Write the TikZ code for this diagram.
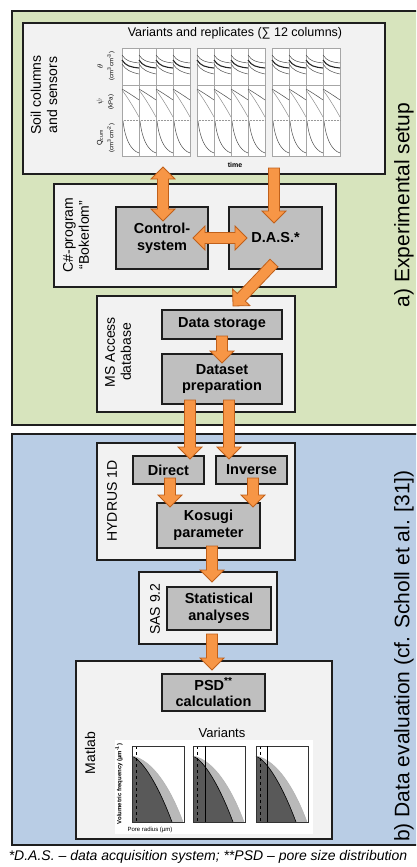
\documentclass[tikz,border=0pt]{standalone}
\usepackage{fontspec}
\setmainfont{Liberation Sans}
\usetikzlibrary{calc}
\definecolor{gfill}{HTML}{D7E4BD}
\definecolor{bfill}{HTML}{B9CDE5}
\definecolor{pfill}{HTML}{F2F2F2}
\definecolor{grbox}{HTML}{BFBFBF}
\definecolor{orfill}{HTML}{F79646}
\definecolor{ordraw}{HTML}{C0601A}
\definecolor{edge}{HTML}{1E1E1E}
\newcommand{\fs}[1]{\fontsize{#1}{#1}\selectfont\baselineskip=1.15\baselineskip}
\newcommand{\sarrow}[2]{%
  \coordinate (bpA) at ($(#2)!12pt!(#1)$);
  \filldraw[arrowstyle] ($(#1)!5.5pt!90:(#2)$) -- ($(bpA)!5.5pt!90:(#2)$) -- ($(bpA)!12pt!90:(#2)$) -- (#2)
    -- ($(bpA)!12pt!-90:(#2)$) -- ($(bpA)!5.5pt!-90:(#2)$) -- ($(#1)!5.5pt!-90:(#2)$) -- cycle;}
\newcommand{\darrow}[2]{%
  \coordinate (bpA) at ($(#2)!12pt!(#1)$);
  \coordinate (bpB) at ($(#1)!12pt!(#2)$);
  \filldraw[arrowstyle] ($(bpB)!5.5pt!90:(#2)$) -- ($(bpA)!5.5pt!90:(#2)$) -- ($(bpA)!12pt!90:(#2)$) -- (#2)
    -- ($(bpA)!12pt!-90:(#2)$) -- ($(bpA)!5.5pt!-90:(#2)$) -- ($(bpB)!5.5pt!-90:(#2)$)
    -- ($(bpB)!12pt!-90:(#2)$) -- (#1) -- ($(bpB)!12pt!90:(#2)$) -- cycle;}
\tikzset{
  arrowstyle/.style={fill=orfill, draw=ordraw, line width=0.8pt, line join=miter},
  panel/.style={draw=edge, fill=pfill, line width=1.6pt},
  procbox/.style={draw=edge, fill=grbox, line width=1.6pt, font=\fs{14.5}\bfseries, align=center, inner sep=0pt},
  sidelabel/.style={rotate=90, font=\fs{14}, align=center},
  biglabel/.style={rotate=90, font=\fs{21}},
  chartframe/.style={draw=gray!70, line width=0.5pt, fill=white},
  ccurve/.style={draw=black!70, line width=0.5pt},
  tiny/.style={font=\fs{6}, inner sep=0pt}
}
\begin{document}
\begin{tikzpicture}[x=1pt,y=-1pt]
\useasboundingbox (0,0) rectangle (416,867);
\clip (0,0) rectangle (416,867);
\fill[white] (0,0) rectangle (416,867);
% outer regions
\draw[fill=gfill, draw=edge, line width=2pt] (12,11) rectangle (440,425);
\draw[fill=bfill, draw=edge, line width=2pt] (12,434) rectangle (440,845);
\node[biglabel] (lblA) at (404,205) {a) Experimental setup};
\node[biglabel] (lblB) at (404,656) {b) Data evaluation (cf. Scholl et al. [31])};

% soil columns panel
\node[panel, minimum width=362pt, minimum height=151pt] (soil) at (204,98.5) {};
\node[sidelabel] (soillbl) at (44,95) {Soil columns\\and sensors};
\node[font=\fs{12.5}] (vartitle) at (235,33) {Variants and replicates (∑ 12 columns)};
\foreach \x in {122,139,156,173,197,214,231,248,272,289,306,323} {
  \draw[chartframe] (\x,48) rectangle ++(17,108);
  \draw[gray!70, line width=0.4pt] (\x,85) -- ++(17,0);
  \draw[gray!80, line width=0.5pt, densely dotted] (\x,120) -- ++(17,0);
  \draw[ccurve] (\x,55) .. controls (\x+4,61) and (\x+8,62) .. (\x+17,63);
  \draw[ccurve, line width=1.1pt, black!85] (\x,60) .. controls (\x+4,66) and (\x+8,67) .. (\x+17,68);
  \draw[ccurve] (\x,64) .. controls (\x+4,70) and (\x+8,72) .. (\x+17,74);
  \draw[ccurve] (\x,89) .. controls (\x+5,92) and (\x+10,95) .. (\x+17,100);
  \draw[ccurve, black!45] (\x,90) .. controls (\x+6,98) and (\x+12,108) .. (\x+17,117);
  \draw[ccurve] (\x+1,121) .. controls (\x+3,138) and (\x+8,150) .. (\x+17,153);
}
\node[rotate=90, font=\fs{8}] (thl) at (100,66) {$\theta$};
\node[rotate=90, tiny] (thu) at (111,66) {(cm\textsuperscript{3}cm\textsuperscript{-3})};
\node[rotate=90, font=\fs{8}] (psl) at (100,102) {$\psi$};
\node[rotate=90, tiny] (psu) at (111,102) {(kPa)};
\node[rotate=90, font=\fs{7}] (ql) at (100,138) {Q\textsubscript{cum}};
\node[rotate=90, tiny] (qu) at (111,138) {(cm\textsuperscript{3}cm\textsuperscript{-2})};
\node[font=\fs{7}\bfseries] (time) at (235,165) {time};

% C# program
\node[panel, minimum width=282pt, minimum height=103pt] (csharp) at (195,235.5) {};
\node[sidelabel] (cslbl) at (76,235) {C\#-program\\``Bokerlom''};
\node[procbox, minimum width=92pt, minimum height=62pt] (ctrl) at (162,238) {Control-\\system};
\node[procbox, minimum width=93pt, minimum height=62pt] (das) at (275.5,238) {D.A.S.*};

% MS Access
\node[panel, minimum width=198pt, minimum height=116pt] (msacc) at (196,354) {};
\node[sidelabel] (mslbl) at (118,352) {MS Access\\database};
\node[procbox, minimum width=120pt, minimum height=29pt] (storage) at (222,324.5) {Data storage};
\node[procbox, minimum width=120pt, minimum height=50pt] (prep) at (222,379) {Dataset\\preparation};

% HYDRUS
\node[panel, minimum width=198pt, minimum height=117pt] (hydrus) at (196,501.5) {};
\node[sidelabel] (hylbl) at (112,501) {HYDRUS 1D};
\node[procbox, minimum width=71pt, minimum height=28pt] (direct) at (168.5,470) {Direct};
\node[procbox, minimum width=71pt, minimum height=28pt] (inverse) at (251.5,470) {Inverse};
\node[procbox, minimum width=103pt, minimum height=45pt] (kosugi) at (208.5,525.5) {Kosugi\\parameter};

% SAS
\node[panel, minimum width=138pt, minimum height=72pt] (sas) at (208,608) {};
\node[sidelabel] (saslbl) at (155,609) {SAS 9.2};
\node[procbox, minimum width=104pt, minimum height=43pt] (stat) at (219,608.5) {Statistical\\analyses};

% Matlab
\node[panel, minimum width=256pt, minimum height=178pt] (matlab) at (204,750) {};
\node[sidelabel] (mllbl) at (90,753) {Matlab};
\node[procbox, minimum width=103pt, minimum height=37pt] (psd) at (213.5,692.5) {PSD\textsuperscript{**}\\calculation};
\node[font=\fs{13}] (varlbl) at (222,733) {Variants};
\fill[white] (115,740) rectangle (313,834);
\foreach \x in {132,193,256} {
  \fill[gray!55] (\x,756) .. controls (\x+22,760) and (\x+40,792) .. (\x+51,822) -- (\x,822) -- cycle;
  \fill[black!65] (\x,756) .. controls (\x+14,762) and (\x+30,795) .. (\x+40,822) -- (\x,822) -- cycle;
  \draw[black, line width=0.6pt] (\x,756) .. controls (\x+14,762) and (\x+30,795) .. (\x+40,822);
  \draw[gray!60, line width=0.5pt] (\x,756) .. controls (\x+22,760) and (\x+40,792) .. (\x+51,822);
  \draw[black, line width=0.5pt, dashed] (\x+4,746) -- (\x+4,822);
  \draw[black!80, line width=0.5pt] (\x,746) rectangle (\x+52,822);
}
\draw[black, line width=0.6pt] (205,746) -- (205,822);
\draw[black, line width=0.6pt] (267,746) -- (267,822);
\node[rotate=90, tiny] (psdy) at (119,784) {\bfseries Volumetric frequency (µm\textsuperscript{-1})};
\node[tiny] (psdx) at (150,830) {Pore radius (µm)};

% arrows
\coordinate (a1s) at (163,167); \coordinate (a1e) at (163,221);
\coordinate (a2s) at (274,168); \coordinate (a2e) at (274,223);
\coordinate (a3s) at (193,238); \coordinate (a3e) at (247,238);
\coordinate (a4s) at (274,263); \coordinate (a4e) at (233,306);
\coordinate (a5s) at (222,336); \coordinate (a5e) at (222,363);
\coordinate (a6s) at (190,400); \coordinate (a6e) at (190,459);
\coordinate (a7s) at (229,400); \coordinate (a7e) at (229,459);
\coordinate (a8s) at (170,478); \coordinate (a8e) at (170,507);
\coordinate (a9s) at (253,478); \coordinate (a9e) at (253,507);
\coordinate (a10s) at (212,546); \coordinate (a10e) at (212,582);
\coordinate (a11s) at (212,634); \coordinate (a11e) at (212,670);
\darrow{a1s}{a1e}
\sarrow{a2s}{a2e}
\darrow{a3s}{a3e}
\sarrow{a4s}{a4e}
\sarrow{a5s}{a5e}
\sarrow{a6s}{a6e}
\sarrow{a7s}{a7e}
\sarrow{a8s}{a8e}
\sarrow{a9s}{a9e}
\sarrow{a10s}{a10e}
\sarrow{a11s}{a11e}

\node[font=\fs{14}\itshape] (foot) at (208,857) {*D.A.S. – data acquisition system; **PSD – pore size distribution};
\end{tikzpicture}
\end{document}
